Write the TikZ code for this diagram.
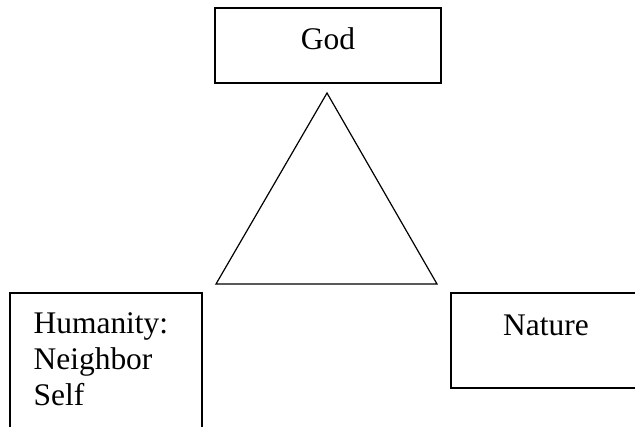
\documentclass[tikz,border=0pt]{standalone}
\usepackage{fontspec}
\setmainfont{Liberation Serif}
\usepackage{xcolor}
\usepackage{tikz}

\begin{document}
\begin{tikzpicture}[x=0.75pt, y=-0.75pt, line width=0.9pt,
    box/.style={draw, rectangle, inner sep=0pt},
    word/.style={inner sep=0pt, font=\fontsize{23.6pt}{27pt}\selectfont}]
          \path[use as bounding box, clip] (0,0) rectangle (635,426);

          % the three boxes
          \node[box, minimum width=226*0.75pt, minimum height=75*0.75pt] (god) at (328,45.5) {};
          \node[box, minimum width=192*0.75pt, minimum height=150*0.75pt] (humanity) at (106,368) {};
          \node[box, minimum width=260*0.75pt, minimum height=95*0.75pt] (nature) at (581,340.5) {};

          \node[word, anchor=base] (godtext) at (328,49) {God};
          \node[word, anchor=base] (naturetext) at (546,335) {Nature};
          \node[word, anchor=base west, align=left] (humanitytext) at (33,405) {Humanity:\\Neighbor\\Self};

          % triangle in between
          \coordinate (top) at (327,93);
          \coordinate (left) at (216,284);
          \coordinate (right) at (437,284);
          \draw (top) -- (left) -- (right) -- cycle;
        \end{tikzpicture}
\end{document}
